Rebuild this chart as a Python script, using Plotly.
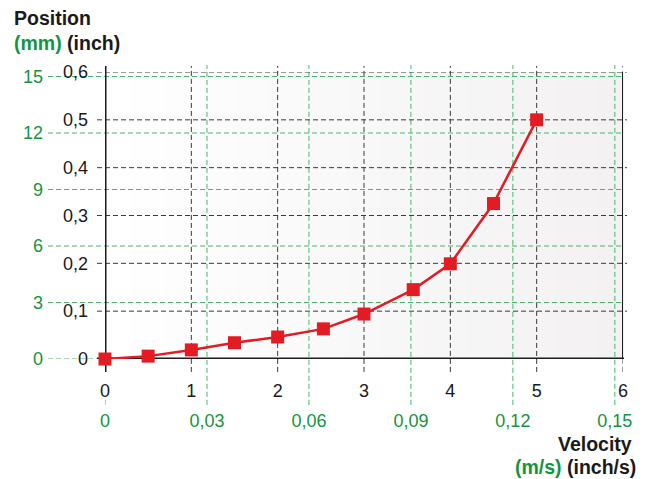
import plotly.graph_objects as go

# ---- data ----
velocity_inch_s = [0, 0.5, 1.0, 1.5, 2.0, 2.53, 3.0, 3.57, 4.0, 4.5, 5.0]
position_inch = [0, 0.006, 0.019, 0.034, 0.046, 0.063, 0.094, 0.145, 0.199, 0.325, 0.5]

x_ticks = [0, 1, 2, 3, 4, 5, 6]
x_ticktext = ["0", "1", "2", "3", "4", "5", "6"]
x2_ticks = [0, 0.03, 0.06, 0.09, 0.12, 0.15]
x2_ticktext = ["0", "0,03", "0,06", "0,09", "0,12", "0,15"]
y_ticks = [0, 0.1, 0.2, 0.3, 0.4, 0.5, 0.6]
y_ticktext = ["0", "0,1", "0,2", "0,3", "0,4", "0,5", "0,6"]
y2_ticks = [0, 3, 6, 9, 12, 15]
y2_ticktext = ["0", "3", "6", "9", "12", "15"]

X_MAX = 6
Y_MAX = 0.6
INCH_TO_M = 0.0254
INCH_TO_MM = 25.4

GREEN_TXT = "#14943f"
GREEN_LINE = "#4ab46e"
BLACK_GRID = "#3a3a3a"
AXIS_BLACK = "#1c1c1c"
RED = "#e31b23"
FONT = "Liberation Sans, Arial, sans-serif"

shapes = []
# gradient background
N = 60
c0 = (255, 255, 255)
c1 = (243, 241, 241)
for i in range(N):
    t = i / (N - 1)
    col = tuple(round(a + (b - a) * t) for a, b in zip(c0, c1))
    shapes.append(dict(type="rect", xref="paper", yref="paper",
                       x0=i / N, x1=(i + 1) / N + 0.002, y0=0, y1=1,
                       line=dict(width=0), fillcolor="rgb(%d,%d,%d)" % col,
                       layer="below"))

# green horizontal grid (mm)
for v in y2_ticks:
    shapes.append(dict(type="line", xref="paper", yref="y2", x0=-0.11, x1=1.0,
                       y0=v, y1=v, line=dict(color=GREEN_LINE, width=1, dash="5px,3px"),
                       layer="below"))
# green vertical grid (m/s)
for v in x2_ticks:
    y0 = -0.16
    y1 = 1.024 if v > 0 else -0.13
    shapes.append(dict(type="line", xref="x2", yref="paper", x0=v, x1=v,
                       y0=y0, y1=y1, line=dict(color=GREEN_LINE, width=1, dash="5px,3px"),
                       layer="below"))
# black horizontal grid (inch)
for v in y_ticks[1:]:
    shapes.append(dict(type="line", xref="paper", yref="y", x0=-0.0154, x1=1.0077,
                       y0=v, y1=v, line=dict(color=BLACK_GRID, width=1, dash="5px,3px"),
                       layer="below"))
# black vertical grid (inch/s)
for v in x_ticks[1:]:
    shapes.append(dict(type="line", xref="x", yref="paper", x0=v, x1=v,
                       y0=-0.045, y1=1.021, line=dict(color=BLACK_GRID, width=1, dash="5px,3px"),
                       layer="below"))
# axis lines
shapes.append(dict(type="line", xref="x", yref="paper", x0=0, x1=0, y0=-0.045, y1=1.021,
                   line=dict(color=AXIS_BLACK, width=3), layer="below"))
shapes.append(dict(type="line", xref="paper", yref="y", x0=-0.0154, x1=1.002, y0=0, y1=0,
                   line=dict(color=AXIS_BLACK, width=3), layer="below"))
shapes.append(dict(type="line", xref="x", yref="y", x0=X_MAX, x1=X_MAX, y0=0, y1=Y_MAX,
                   line=dict(color=AXIS_BLACK, width=2), layer="below"))

fig = go.Figure()
fig.add_trace(go.Scatter(
    x=velocity_inch_s, y=position_inch, mode="lines+markers",
    line=dict(color=RED, width=2.5),
    marker=dict(symbol="square", size=13, color=RED),
    cliponaxis=False, showlegend=False,
))

tickfont = dict(family=FONT, size=18, color="#1a1a1a")
gtickfont = dict(family=FONT, size=18, color=GREEN_TXT)
titlefont = dict(family=FONT, size=19.5, color="#1a1a1a")

fig.update_layout(
    width=643, height=471,
    margin=dict(l=97, r=28, t=64, b=120),
    paper_bgcolor="white", plot_bgcolor="white",
    shapes=shapes,
    xaxis=dict(range=[0, X_MAX], tickvals=x_ticks, ticktext=x_ticktext,
               showgrid=False, zeroline=False, showline=False, ticks="",
               tickfont=tickfont, ticklabelstandoff=19),
    xaxis2=dict(range=[0, X_MAX * INCH_TO_M], tickvals=x2_ticks, ticktext=x2_ticktext,
                overlaying="x", side="bottom", anchor="y",
                showgrid=False, zeroline=False, showline=False, ticks="",
                tickfont=gtickfont, ticklabelstandoff=49),
    yaxis=dict(range=[0, Y_MAX], tickvals=y_ticks, ticktext=y_ticktext,
               showgrid=False, zeroline=False, showline=False, ticks="",
               tickfont=tickfont, ticklabelstandoff=16),
    yaxis2=dict(range=[0, Y_MAX * INCH_TO_MM], tickvals=y2_ticks, ticktext=y2_ticktext,
                overlaying="y", side="left", anchor="x",
                showgrid=False, zeroline=False, showline=False, ticks="",
                tickfont=gtickfont, ticklabelstandoff=61),
    annotations=[
        dict(text="<b>Position</b>", xref="paper", yref="paper", x=-0.18, y=1.188,
             xanchor="left", yanchor="middle", showarrow=False, font=titlefont),
        dict(text="<b><span style='color:%s'>(mm)</span> (inch)</b>" % GREEN_TXT,
             xref="paper", yref="paper", x=-0.18, y=1.101,
             xanchor="left", yanchor="middle", showarrow=False, font=titlefont),
        dict(text="<b>Velocity</b>", xref="paper", yref="paper", x=1.021, y=-0.296,
             xanchor="right", yanchor="middle", showarrow=False, font=titlefont),
        dict(text="<b><span style='color:%s'>(m/s)</span> (inch/s)</b>" % GREEN_TXT,
             xref="paper", yref="paper", x=1.029, y=-0.376,
             xanchor="right", yanchor="middle", showarrow=False, font=titlefont),
    ],
)

fig.write_html("out.html")
